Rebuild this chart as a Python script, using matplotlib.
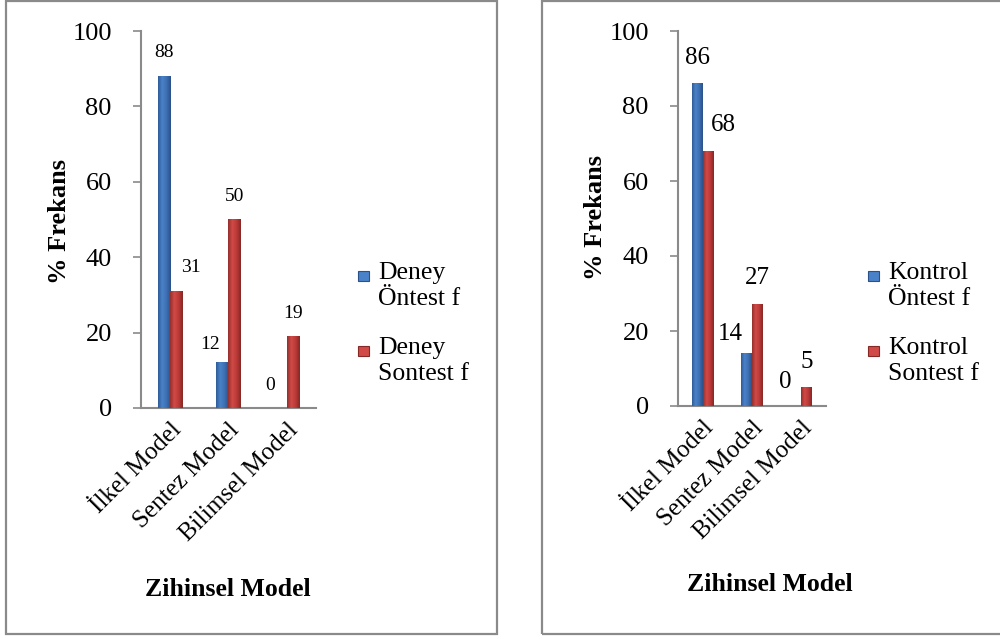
#!/usr/bin/env python

"""Zihinsel model frekanslari - deney ve kontrol gruplari"""

import numpy as np
import matplotlib
matplotlib.use("Agg")
import matplotlib.pyplot as plt
from matplotlib.patches import Rectangle
from matplotlib.colors import LinearSegmentedColormap

plt.rcParams["font.family"] = ["Liberation Serif", "DejaVu Serif"]

# Data
categories   = ["İlkel Model", "Sentez Model", "Bilimsel Model"]
deneyOn      = [88, 12, 0]
deneySon     = [31, 50, 19]
kontrolOn    = [86, 14, 0]
kontrolSon   = [68, 27, 5]
deneyNames   = ["Deney\nÖntest f", "Deney\nSontest f"]
kontrolNames = ["Kontrol\nÖntest f", "Kontrol\nSontest f"]
yTicks       = [0, 20, 40, 60, 80, 100]

# Colors
blueCols = ["#2f5c98", "#4a82c9", "#3d6fb2", "#2a5188"]
redCols  = ["#93302d", "#d14a47", "#bb3a37", "#862826"]
gray     = "#8a8a8a"

blueCmap = LinearSegmentedColormap.from_list("b", blueCols)
redCmap  = LinearSegmentedColormap.from_list("r", redCols)
grad     = np.linspace(0, 1, 64).reshape(1, -1)

#{{{shadeBars
def shadeBars(ax, bars, cmap):
    """Paints a horizontal gradient inside every bar."""
    for b in bars:
        if b.get_height() <= 0:
            continue
        x0 = b.get_x()
        ax.imshow(grad, cmap=cmap, aspect="auto", zorder=3,
                  extent=(x0, x0 + b.get_width(), 0, b.get_height()))
        b.set_visible(False)
#}}}

#{{{drawPanel
def drawPanel(fig, rect, serA, serB, width, dx, dy, fs):
    """Draws one panel, returns the axes."""
    ax = fig.add_axes(rect)
    x = np.arange(len(categories))
    barsA = ax.bar(x - width/2, serA, width, color=blueCols[1])
    barsB = ax.bar(x + width/2, serB, width, color=redCols[1])
    shadeBars(ax, barsA, blueCmap)
    shadeBars(ax, barsB, redCmap)

    # Data labels
    for i, b in enumerate(list(barsA) + list(barsB)):
        ax.annotate("{}".format(int(b.get_height())),
                    (b.get_x() + b.get_width()/2, b.get_height()),
                    xytext=(dx[i], dy[i]), textcoords="offset pixels",
                    ha="center", va="center", fontsize=fs, zorder=5)

    ax.set_xlim(-0.5, len(categories) - 0.5)
    ax.set_ylim(0, 100)
    ax.set_yticks(yTicks)
    ax.set_xticks(x)
    ax.set_xticklabels(categories, rotation=45, ha="right",
                       rotation_mode="anchor", fontsize=18)
    ax.tick_params(axis="x", length=0, pad=8)
    ax.tick_params(axis="y", length=6, width=1.2, color=gray,
                   labelsize=19, pad=15)
    for s in ["top", "right"]:
        ax.spines[s].set_visible(False)
    for s in ["left", "bottom"]:
        ax.spines[s].set_color(gray)
        ax.spines[s].set_linewidth(1.5)
    return ax
#}}}

#{{{drawLegend
def drawLegend(fig, xm, xt, yBase, names):
    """Manual legend: square marker next to the first line."""
    for name, yb, cols in zip(names, yBase, [blueCols, redCols]):
        fig.patches.append(Rectangle((xm/1000, 1 - (yb - 2)/639), 11/1000,
                                     -10/639, transform=fig.transFigure,
                                     facecolor=cols[1], edgecolor=cols[3],
                                     lw=0.8))
        fig.text(xt/1000, 1 - (yb + 32)/639, name, fontsize=18.5,
                 va="baseline", ha="left", linespacing=1.22)
#}}}

fig = plt.figure(figsize=(10, 6.39), dpi=100)

# Panel frames
for x0, x1 in [(6, 497), (542, 1003)]:
    fig.patches.append(Rectangle((x0/1000, 1 - 634/639), (x1 - x0)/1000,
                                 633/639, transform=fig.transFigure,
                                 fill=False, edgecolor=gray, lw=1.6))

# Left panel
axL = drawPanel(fig, [0.141, 1 - 408/639, 0.175, 377/639],
                deneyOn, deneySon, 0.21,
                dx=[0, -12, -11, 15, 0, 0], dy=[24, 18, 23, 24, 23, 23], fs=14)
fig.text(0.060, 0.653, "% Frekans", rotation=90, ha="center", va="center",
         fontsize=19, fontweight="bold")
fig.text(0.228, 0.077, "Zihinsel Model", ha="center", va="center",
         fontsize=18.5, fontweight="bold")
drawLegend(fig, 358, 378, [273, 348], deneyNames)

# Right panel
axR = drawPanel(fig, [0.678, 1 - 406/639, 0.148, 375/639],
                kontrolOn, kontrolSon, 0.213,
                dx=[0, -16, -11, 15, 0, 0], dy=[26, 20, 24, 26, 27, 25], fs=18)
fig.text(0.596, 0.66, "% Frekans", rotation=90, ha="center", va="center",
         fontsize=19, fontweight="bold")
fig.text(0.770, 0.085, "Zihinsel Model", ha="center", va="center",
         fontsize=18.5, fontweight="bold")
drawLegend(fig, 868, 888, [273, 348], kontrolNames)

fig.savefig("out.png", dpi=100)
